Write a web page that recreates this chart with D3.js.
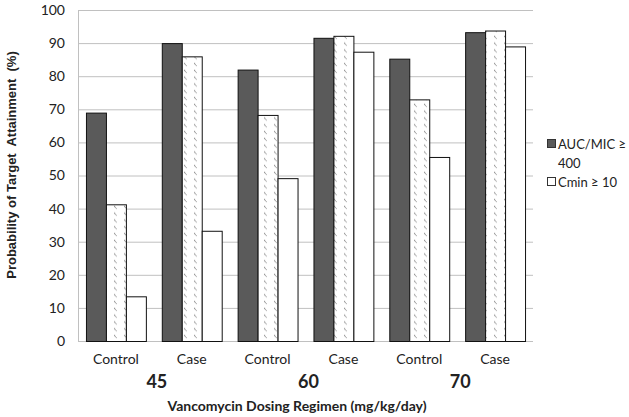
<!DOCTYPE html>
<html><head><meta charset="utf-8">
<script src="https://cdn.jsdelivr.net/npm/d3@7"></script>
<style>body{margin:0;background:#fff}</style>
</head><body>
<svg id="c" width="629" height="417"></svg>
<script>
const categories = ["Control","Case","Control","Case","Control","Case"];
const doses = ["45","60","70"];
const aucMic = [69, 90, 82, 91.6, 85.3, 93.3];
const hatched = [41.3, 86, 68.3, 92.2, 73, 93.8];
const cmin = [13.5, 33.3, 49.2, 87.4, 55.6, 89];
const yTicks = [0,10,20,30,40,50,60,70,80,90,100];
const legendLabels = [["AUC/MIC ≥","400"],["Cmin ≥ 10"]];

const svg = d3.select("#c");
const m = {l:78, r:533, t:10, b:341};
const x = d3.scaleBand().domain(d3.range(categories.length)).range([m.l, m.r]).paddingInner(0.21).paddingOuter(0.105);
const y = d3.scaleLinear().domain([0,100]).range([m.b, m.t]);
const sub = d3.scaleBand().domain([0,1,2]).range([0, x.bandwidth()]);

const defs = svg.append("defs");
const pat = defs.append("pattern").attr("id","hatch").attr("patternUnits","userSpaceOnUse")
  .attr("width",10).attr("height",6.8).attr("x",1).attr("y",0);
pat.append("rect").attr("width",10).attr("height",6.8).attr("fill","#fff");
pat.append("path").attr("d","M3,2.2 L5.8,4.8 M3,2.2 L4.2,2.2").attr("stroke","#8a8a8a").attr("stroke-width",0.9).attr("fill","none");

// gridlines
svg.append("g").selectAll("line").data(yTicks).join("line")
  .attr("x1",m.l).attr("x2",m.r).attr("y1",d=>y(d)+0.5).attr("y2",d=>y(d)+0.5)
  .attr("stroke","#c0c0c0").attr("stroke-width",1);
svg.append("line").attr("x1",m.l+0.5).attr("x2",m.l+0.5).attr("y1",m.t).attr("y2",m.b)
  .attr("stroke","#c0c0c0");

// y labels
svg.append("g").selectAll("text").data(yTicks).join("text")
  .attr("x",65).attr("y",d=>y(d)).attr("dy","0.35em").attr("text-anchor","end")
  .attr("font-family","Lato").attr("font-size",14).attr("fill","#222").text(d=>d);

const series = [
  {vals:aucMic, fill:"#5a5a5a"},
  {vals:hatched, fill:"url(#hatch)"},
  {vals:cmin, fill:"#fff"}
];
series.forEach((s,si)=>{
  svg.append("g").selectAll("rect").data(s.vals).join("rect")
    .attr("x",(d,i)=>x(i)+sub(si)+0.5).attr("width",sub.bandwidth())
    .attr("y",d=>y(d)+0.5).attr("height",d=>y(0)-y(d))
    .attr("fill",s.fill).attr("stroke","#111").attr("stroke-width",1);
});

// category labels
svg.append("g").selectAll("text").data(categories).join("text")
  .attr("x",(d,i)=>x(i)+x.bandwidth()/2).attr("y",364)
  .attr("text-anchor","middle").attr("font-family","Lato").attr("font-size",14).attr("fill","#222").text(d=>d);

// dose labels
const step = x.step();
svg.append("g").selectAll("text").data(doses).join("text")
  .attr("x",(d,i)=>m.l + step*(2*i+1) + 3).attr("y",388)
  .attr("text-anchor","middle").attr("font-family","Lato").attr("font-weight","bold").attr("font-size",18).attr("fill","#222").text(d=>d);

svg.append("text").attr("x",297).attr("y",411).attr("text-anchor","middle")
  .attr("font-family","Lato").attr("font-weight","bold").attr("font-size",14).attr("fill","#222")
  .text("Vancomycin Dosing Regimen (mg/kg/day)");

svg.append("text").attr("transform","translate(16,165) rotate(-90)").attr("text-anchor","middle")
  .attr("font-family","Liberation Sans").attr("font-weight","bold").attr("font-size",13).attr("fill","#222")
  .style("white-space","pre")
  .text("Probability of Target  Attainment  (%)");

// legend
const lg = svg.append("g");
const lFills = ["#5a5a5a","#fff"];
const lY = [144, 182];
legendLabels.forEach((lines,i)=>{
  lg.append("rect").attr("x",547.5).attr("y",lY[i]-4.5).attr("width",8).attr("height",8)
    .attr("fill",lFills[i]).attr("stroke","#333");
  lines.forEach((t,j)=>{
    lg.append("text").attr("x",558).attr("y",lY[i]+j*19).attr("dy","0.35em")
      .attr("font-family","Lato").attr("font-size",13).attr("fill","#222").text(t);
  });
});
</script>
</body></html>
